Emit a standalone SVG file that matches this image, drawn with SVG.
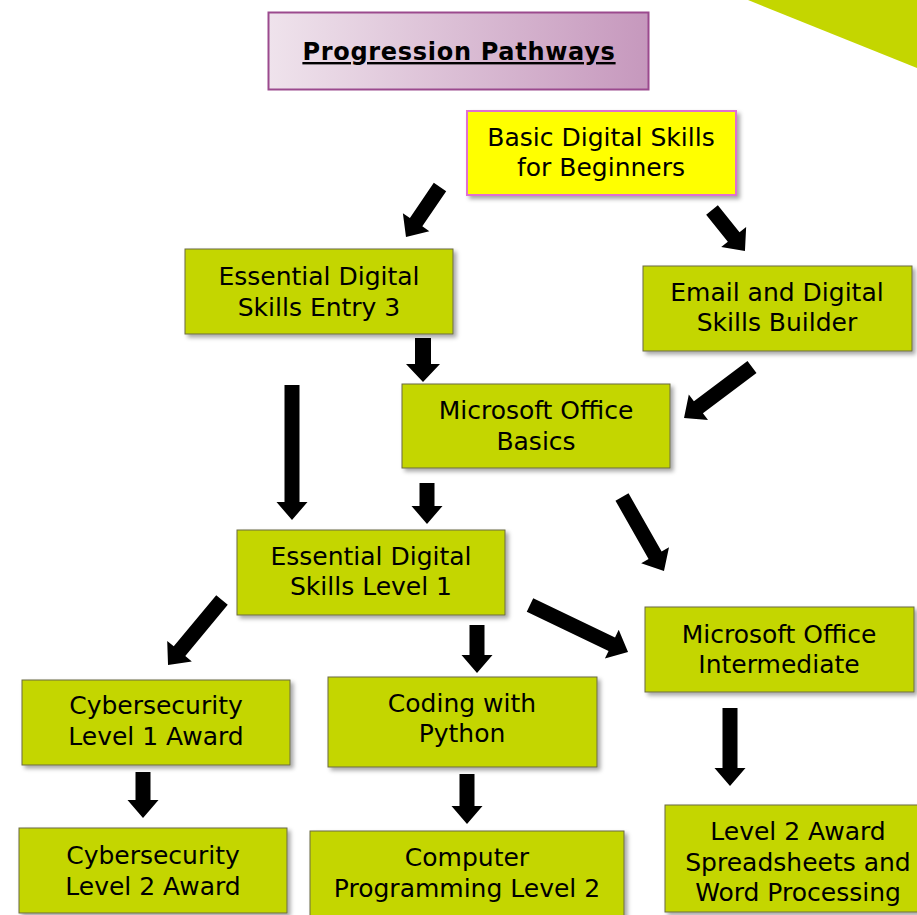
<svg xmlns="http://www.w3.org/2000/svg" width="917" height="915" viewBox="0 0 917 915">
<defs>
<linearGradient id="tg" x1="0" y1="0" x2="1" y2="0">
<stop offset="0" stop-color="#efe3ec"/>
<stop offset="1" stop-color="#c698bd"/>
</linearGradient>
<filter id="sh" x="-10%" y="-10%" width="125%" height="130%">
<feDropShadow dx="3" dy="3" stdDeviation="2" flood-color="#000" flood-opacity="0.35"/>
</filter>
</defs>
<style>
.n rect{fill:#c4d600;stroke:#6b6b40;stroke-width:1;filter:url(#sh)}
.n text,.y text{font-family:"DejaVu Sans",Verdana,sans-serif;font-size:25px;fill:#000;text-anchor:middle}
.y rect{fill:#ffff00;stroke:#e070d0;stroke-width:2;filter:url(#sh)}
.arr{fill:#000}
</style>
<rect width="917" height="915" fill="#fff"/>
<polygon points="748,0 917,0 917,68" fill="#c4d600"/>
<g id="title">
<rect x="268.5" y="12.5" width="380" height="77" fill="url(#tg)" stroke="#9b4a8e" stroke-width="2"/>
<text x="459" y="60" font-family="DejaVu Sans,Verdana,sans-serif" font-size="24" font-weight="bold" letter-spacing="0.7" text-anchor="middle" text-decoration="underline">Progression Pathways</text>
</g>
<g id="basic" class="y"><rect x="467" y="111" width="269" height="84"/><text x="601" y="146">Basic Digital Skills</text><text x="601" y="176">for Beginners</text></g>
<g id="eds-entry3" class="n"><rect x="185" y="249" width="268" height="85"/><text x="319" y="285">Essential Digital</text><text x="319" y="316">Skills Entry 3</text></g>
<g id="email" class="n"><rect x="643" y="266" width="269" height="85"/><text x="777" y="301">Email and Digital</text><text x="777" y="331">Skills Builder</text></g>
<g id="ms-basics" class="n"><rect x="402" y="384" width="268" height="84"/><text x="536" y="419">Microsoft Office</text><text x="536" y="450">Basics</text></g>
<g id="eds-l1" class="n"><rect x="237" y="530" width="268" height="85"/><text x="371" y="565">Essential Digital</text><text x="371" y="595">Skills Level 1</text></g>
<g id="ms-inter" class="n"><rect x="645" y="607" width="269" height="85"/><text x="779" y="643">Microsoft Office</text><text x="779" y="673">Intermediate</text></g>
<g id="cyber1" class="n"><rect x="22" y="680" width="268" height="85"/><text x="156" y="714">Cybersecurity</text><text x="156" y="745">Level 1 Award</text></g>
<g id="python" class="n"><rect x="328" y="677" width="269" height="90"/><text x="462" y="712">Coding with</text><text x="462" y="742">Python</text></g>
<g id="cyber2" class="n"><rect x="19" y="828" width="268" height="85"/><text x="153" y="864">Cybersecurity</text><text x="153" y="895">Level 2 Award</text></g>
<g id="prog2" class="n"><rect x="310" y="831" width="314" height="90"/><text x="467" y="866">Computer</text><text x="467" y="897">Programming Level 2</text></g>
<g id="l2award" class="n"><rect x="665" y="805" width="260" height="107"/><text x="798" y="840">Level 2 Award</text><text x="798" y="871">Spreadsheets and</text><text x="798" y="901">Word Processing</text></g>
<g id="connectors">
<polygon class="arr" transform="translate(440,187) rotate(124.2)" points="0,-7.5 42.5,-7.5 42.5,-16 60.5,0 42.5,16 42.5,7.5 0,7.5"/>
<polygon class="arr" transform="translate(712,210) rotate(51.2)" points="0,-7.5 34.6,-7.5 34.6,-16 52.6,0 34.6,16 34.6,7.5 0,7.5"/>
<polygon class="arr" transform="translate(423,338) rotate(90)" points="0,-8 26,-8 26,-17 44,0 26,17 26,8 0,8"/>
<polygon class="arr" transform="translate(292,385) rotate(90)" points="0,-7.5 117,-7.5 117,-15.5 135,0 117,15.5 117,7.5 0,7.5"/>
<polygon class="arr" transform="translate(752,367) rotate(143.1)" points="0,-7.5 67,-7.5 67,-16 85,0 67,16 67,7.5 0,7.5"/>
<polygon class="arr" transform="translate(427,483) rotate(90)" points="0,-7.5 23,-7.5 23,-15.5 41,0 23,15.5 23,7.5 0,7.5"/>
<polygon class="arr" transform="translate(622,497) rotate(60.4)" points="0,-7.5 67,-7.5 67,-16 85,0 67,16 67,7.5 0,7.5"/>
<polygon class="arr" transform="translate(222,600) rotate(129.7)" points="0,-7.5 66.5,-7.5 66.5,-16 84.5,0 66.5,16 66.5,7.5 0,7.5"/>
<polygon class="arr" transform="translate(477,625) rotate(90)" points="0,-7.5 30,-7.5 30,-15.5 48,0 30,15.5 30,7.5 0,7.5"/>
<polygon class="arr" transform="translate(530,605) rotate(25.6)" points="0,-7.5 90.7,-7.5 90.7,-16 108.7,0 90.7,16 90.7,7.5 0,7.5"/>
<polygon class="arr" transform="translate(730,708) rotate(90)" points="0,-7.5 60,-7.5 60,-15.5 78,0 60,15.5 60,7.5 0,7.5"/>
<polygon class="arr" transform="translate(143,772) rotate(90)" points="0,-7.5 28,-7.5 28,-15.5 46,0 28,15.5 28,7.5 0,7.5"/>
<polygon class="arr" transform="translate(467,774) rotate(90)" points="0,-7.5 32,-7.5 32,-15.5 50,0 32,15.5 32,7.5 0,7.5"/>
</g>
</svg>
